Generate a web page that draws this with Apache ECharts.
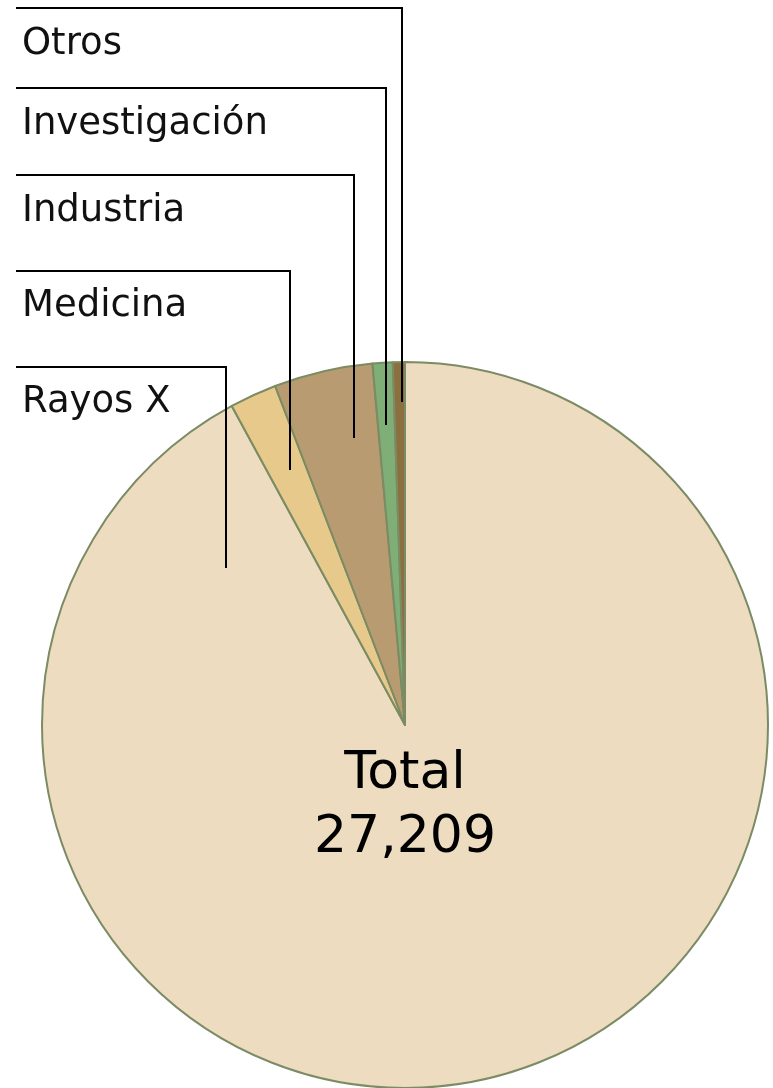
<!DOCTYPE html>
<html>
<head>
<meta charset="utf-8">
<script src="https://cdn.jsdelivr.net/npm/echarts@6/dist/echarts.min.js"></script>
<style>
html,body{margin:0;padding:0;background:#fff;}
#main{width:773px;height:1088px;}
</style>
</head>
<body>
<div id="main"></div>
<script>
// Data (slices clockwise from 12 o'clock)
var categories = ['Rayos X', 'Medicina', 'Industria', 'Investigación', 'Otros'];
var values = [25055, 570, 1195, 243, 146];
var totalLabel = ['Total', '27,209'];

// Styles / layout (not data)
var colors = ['#eddcbf', '#e8c98c', '#b99b71', '#7fae76', '#8c6f3e'];
// leader layout per category: [vertical x, end y inside slice, horizontal y, text baseline]
var leaders = [
  [226, 568, 367, 413],
  [290, 470, 271, 317],
  [354, 438, 175, 222],
  [386, 425, 88, 135],
  [402, 402, 8, 55]
];

var chart = echarts.init(document.getElementById('main'), null, {renderer: 'canvas'});
var data = categories.map(function (c, i) {
  return {name: c, value: values[i], itemStyle: {color: colors[i]}};
});
var ghostData = categories.map(function (c, i) {
  return {name: c, value: values[i]};
});

var pieCenter = [405, 725];
var pieRadius = [0, 363];

chart.setOption({
  animation: false,
  backgroundColor: '#ffffff',
  series: [{
    type: 'pie',
    z: 2,
    center: pieCenter,
    radius: pieRadius,
    startAngle: 90,
    clockwise: true,
    silent: true,
    itemStyle: {borderColor: '#7b8b63', borderWidth: 2},
    label: {show: false},
    labelLine: {show: false},
    data: data
  }, {
    type: 'pie',
    z: 5,
    center: pieCenter,
    radius: pieRadius,
    startAngle: 90,
    clockwise: true,
    silent: true,
    avoidLabelOverlap: false,
    itemStyle: {color: 'rgba(0,0,0,0)', borderWidth: 0},
    label: {
      show: true,
      position: 'outside',
      formatter: '{b}',
      fontFamily: 'DejaVu Sans',
      fontSize: 37,
      color: '#111111'
    },
    labelLine: {
      show: true,
      lineStyle: {color: '#000000', width: 2},
      minTurnAngle: 0,
      maxSurfaceAngle: 180
    },
    labelLayout: function (params) {
      var L = leaders[params.dataIndex];
      return {
        x: 22,
        y: L[3] - 11,
        align: 'left',
        verticalAlign: 'middle',
        labelLinePoints: [[L[0], L[1]], [L[0], L[2]], [16, L[2]]]
      };
    },
    data: ghostData
  }],
  graphic: [{
    type: 'text',
    z: 100,
    style: {
      x: 405,
      y: 774,
      text: totalLabel[0],
      align: 'center',
      verticalAlign: 'middle',
      fontSize: 52,
      fontFamily: 'DejaVu Sans',
      fill: '#000000'
    }
  }, {
    type: 'text',
    z: 100,
    style: {
      x: 405,
      y: 838,
      text: totalLabel[1],
      align: 'center',
      verticalAlign: 'middle',
      fontSize: 52,
      fontFamily: 'DejaVu Sans',
      fill: '#000000'
    }
  }]
});
</script>
</body>
</html>
